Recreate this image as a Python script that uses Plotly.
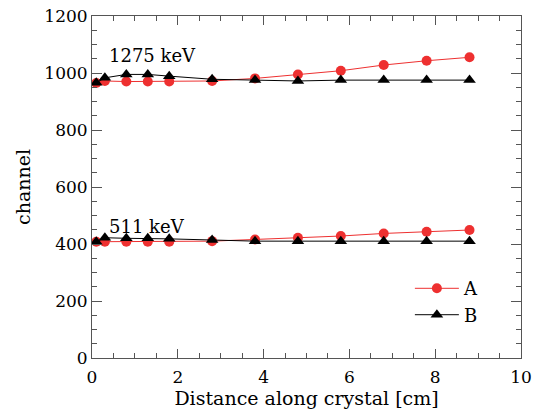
import plotly.graph_objects as go

# data
dist = [0.1, 0.3, 0.8, 1.3, 1.8, 2.8, 3.8, 4.8, 5.8, 6.8, 7.8, 8.8]
a_1275 = [965, 972, 970, 970, 970, 972, 981, 995, 1008, 1028, 1043, 1055]
b_1275 = [966, 983, 995, 995, 989, 978, 975, 972, 975, 975, 975, 975]
a_511 = [408, 408, 408, 408, 408, 410, 416, 422, 428, 437, 443, 449]
b_511 = [408, 422, 420, 420, 418, 414, 410, 410, 410, 410, 410, 410]
labels = ["1275 keV", "511 keV"]
label_pos = [(0.35, 1062), (0.35, 460)]

RED = "#ee3030"
FONT = "DejaVu Serif"

fig = go.Figure()
for i, (ya, yb) in enumerate([(a_1275, b_1275), (a_511, b_511)]):
    fig.add_trace(go.Scatter(x=dist, y=ya, mode="lines+markers", name="A",
                             line=dict(color=RED, width=1),
                             marker=dict(color=RED, size=10, symbol="circle"),
                             showlegend=(i == 0), legendrank=1))
for i, (ya, yb) in enumerate([(a_1275, b_1275), (a_511, b_511)]):
    fig.add_trace(go.Scatter(x=dist, y=yb, mode="lines+markers", name="B",
                             line=dict(color="black", width=1),
                             marker=dict(color="black", size=11, symbol="triangle-up"),
                             showlegend=(i == 0), legendrank=2))

for txt, (lx, ly) in zip(labels, label_pos):
    fig.add_annotation(x=lx, y=ly, text=txt, showarrow=False, xanchor="left",
                       yanchor="middle", font=dict(family=FONT, size=18, color="black"))

axis_common = dict(showline=True, linecolor="#555555", linewidth=1, mirror="allticks",
                   ticks="inside", tickcolor="#555555", showgrid=False, zeroline=False,
                   automargin=False,
                   tickfont=dict(family=FONT, size=17, color="black"))

fig.update_xaxes(range=[0, 10], dtick=2, tick0=0, ticklen=9, ticklabelstandoff=4,
                 minor=dict(dtick=0.5, ticklen=5, ticks="inside", tickcolor="#555555"),
                 title=dict(text="Distance along crystal [cm]", standoff=4,
                            font=dict(family=FONT, size=19, color="black")),
                 **axis_common)
fig.update_yaxes(range=[0, 1200], dtick=200, tick0=0, ticklen=10,
                 minor=dict(dtick=50, ticklen=5, ticks="inside", tickcolor="#555555"),
                 title=dict(text="channel", standoff=8,
                            font=dict(family=FONT, size=19, color="black")),
                 **axis_common)

fig.update_layout(width=541, height=412, margin=dict(l=92, r=20, t=16, b=54),
                  plot_bgcolor="white", paper_bgcolor="white",
                  legend=dict(x=0.741, y=0.257, xanchor="left", yanchor="top",
                              itemwidth=44,
                              bgcolor="rgba(0,0,0,0)", tracegroupgap=0,
                              font=dict(family=FONT, size=18, color="black")))

fig.write_html("out.html", config={"displayModeBar": False},
               post_script="document.body.style.margin='0';document.body.style.overflow='hidden';")
